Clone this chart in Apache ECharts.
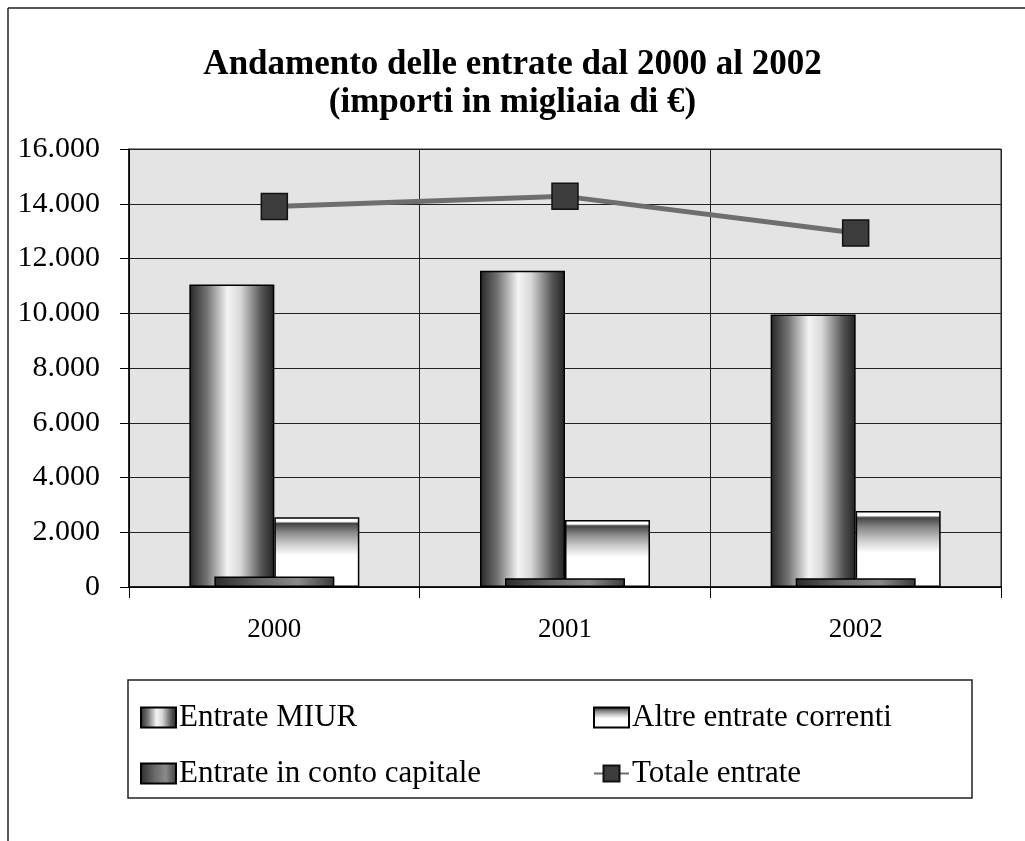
<!DOCTYPE html>
<html>
<head>
<meta charset="utf-8">
<script src="https://cdn.jsdelivr.net/npm/echarts@6/dist/echarts.min.js"></script>
<style>
html,body{margin:0;padding:0;background:#fff;}
#chart{width:1025px;height:841px;}
</style>
</head>
<body>
<div id="chart"></div>
<script>
const categories = ['2000', '2001', '2002'];
const entrateMIUR = [11050, 11550, 9950];
const altreEntrateCorrenti = [2550, 2450, 2780];
const entrateContoCapitale = [380, 320, 320];
const totaleEntrate = [13900, 14270, 12930];
const yMin = 0, yMax = 16000, yStep = 2000;

const serif = '"Liberation Serif", "DejaVu Serif", serif';

function fmt(v) {
  if (v === 0) return '0';
  const s = String(Math.round(v));
  return s.replace(/\B(?=(\d{3})+(?!\d))/g, '.');
}

const chart = echarts.init(document.getElementById('chart'), null, {renderer: 'canvas'});

const legendText = {fontFamily: serif, fontSize: 31, color: '#000', lineHeight: 30, padding: [0,0,0,-2]};

const option = {
  backgroundColor: '#ffffff',
  animation: false,
  title: {
    text: 'Andamento delle entrate dal 2000 al 2002\n(importi in migliaia di €)',
    left: 'center',
    top: 41,
    textStyle: {fontFamily: serif, fontSize: 35, fontWeight: 'bold', color: '#000', lineHeight: 38}
  },
  legend: [
    {
      data: [{name: 'Entrate MIUR', icon: 'rect'}, {name: 'Entrate in conto capitale', icon: 'rect'}],
      orient: 'vertical',
      left: 135, top: 697,
      itemWidth: 35, itemHeight: 20, itemGap: 25,
      textStyle: legendText
    },
    {
      data: [{name: 'Altre entrate correnti', icon: 'rect'}, 'Totale entrate'],
      orient: 'vertical',
      left: 588, top: 697,
      itemWidth: 35, itemHeight: 20, itemGap: 25,
      textStyle: legendText
    }
  ],
  graphic: [
    {type: 'line', shape: {x1: 8, y1: 8, x2: 1025, y2: 8}, style: {stroke: '#222', lineWidth: 1.5}},
    {type: 'line', shape: {x1: 8, y1: 8, x2: 8, y2: 841}, style: {stroke: '#222', lineWidth: 1.5}},
    {type: 'rect', shape: {x: 128, y: 680, width: 844, height: 118}, style: {fill: 'none', stroke: '#222', lineWidth: 1.5}, silent: true}
  ],
  grid: {
    left: 129, right: 24, top: 149, bottom: 254,
    show: true, backgroundColor: '#e4e4e4', borderColor: '#222', borderWidth: 1
  },
  xAxis: [
    {
      type: 'category', data: categories,
      axisLine: {show: true, lineStyle: {color: '#000', width: 1.5}},
      axisTick: {show: true, length: 11, lineStyle: {color: '#000'}},
      splitLine: {show: true, lineStyle: {color: '#222', width: 1}},
      axisLabel: {fontFamily: serif, fontSize: 27, color: '#000', margin: 29}
    },
    {
      type: 'category', data: categories, show: false, position: 'bottom'
    }
  ],
  yAxis: {
    type: 'value', min: yMin, max: yMax, interval: yStep,
    axisLine: {show: true, lineStyle: {color: '#000', width: 1.5}},
    axisTick: {show: true, length: 9, lineStyle: {color: '#000'}},
    splitLine: {show: true, lineStyle: {color: '#222', width: 1}},
    axisLabel: {fontFamily: serif, fontSize: 30, color: '#000', margin: 29, formatter: fmt}
  },
  series: [
    {
      name: 'Entrate MIUR', type: 'bar', xAxisIndex: 0, data: entrateMIUR,
      barWidth: 85, barGap: '0%',
      itemStyle: {
        borderColor: '#000', borderWidth: 1.5,
        color: new echarts.graphic.LinearGradient(0, 0, 1, 0, [
          {offset: 0, color: '#262626'},
          {offset: 0.2, color: '#707070'},
          {offset: 0.45, color: '#f4f4f4'},
          {offset: 0.6, color: '#d8d8d8'},
          {offset: 0.85, color: '#555555'},
          {offset: 1, color: '#222222'}
        ])
      }
    },
    {
      name: 'Altre entrate correnti', type: 'bar', xAxisIndex: 0, data: altreEntrateCorrenti,
      barWidth: 85, barGap: '0%',
      itemStyle: {
        borderColor: '#000', borderWidth: 1.5,
        color: new echarts.graphic.LinearGradient(0, 0, 0, 1, [
          {offset: 0, color: '#ffffff'},
          {offset: 0.06, color: '#ffffff'},
          {offset: 0.09, color: '#444444'},
          {offset: 0.22, color: '#8a8a8a'},
          {offset: 0.4, color: '#d0d0d0'},
          {offset: 0.55, color: '#ffffff'},
          {offset: 1, color: '#ffffff'}
        ])
      }
    },
    {
      name: 'Entrate in conto capitale', type: 'bar', xAxisIndex: 1, data: entrateContoCapitale,
      barWidth: 120,
      itemStyle: {
        borderColor: '#000', borderWidth: 1.5,
        color: new echarts.graphic.LinearGradient(0, 0, 1, 0, [
          {offset: 0, color: '#2a2a2a'},
          {offset: 0.4, color: '#6a6a6a'},
          {offset: 0.7, color: '#8a8a8a'},
          {offset: 1, color: '#3a3a3a'}
        ])
      }
    },
    {
      name: 'Totale entrate', type: 'line', xAxisIndex: 0, data: totaleEntrate,
      symbol: 'rect', symbolSize: 26,
      lineStyle: {color: '#6e6e6e', width: 5},
      itemStyle: {color: '#3c3c3c', borderColor: '#111', borderWidth: 1.5},
      z: 5
    }
  ]
};
chart.setOption(option);
</script>
</body>
</html>
